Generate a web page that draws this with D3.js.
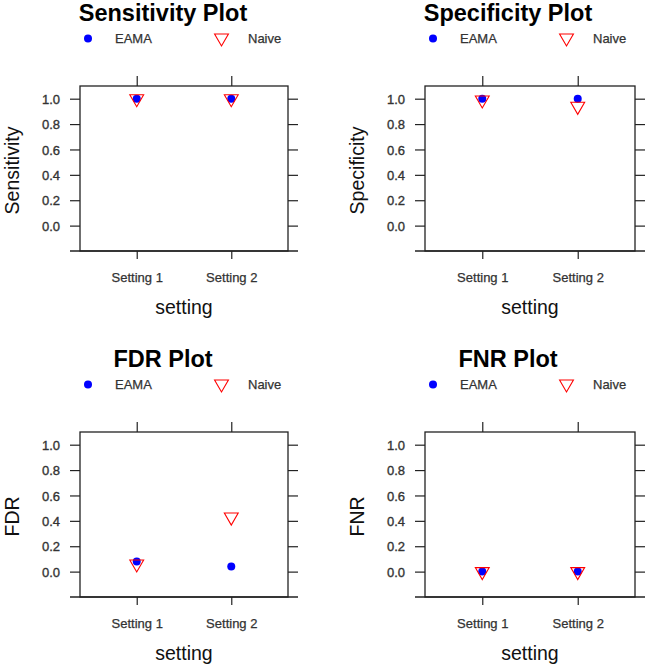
<!DOCTYPE html>
<html>
<head>
<meta charset="utf-8">
<script src="https://cdn.jsdelivr.net/npm/d3@7"></script>
<style>
  html, body { margin: 0; padding: 0; background: #fff; }
  svg { display: block; }
  text { font-family: Arial, "Liberation Sans", Helvetica, sans-serif; }
</style>
</head>
<body>
<svg id="chart" width="646" height="670"></svg>
<script>
// ---- data ----
const categories = ["Setting 1", "Setting 2"];
const seriesNames = ["EAMA", "Naive"];
const yTicks = [0.0, 0.2, 0.4, 0.6, 0.8, 1.0];

const sensitivityEAMA  = [1.0, 1.0];
const sensitivityNaive = [1.0, 1.0];
const specificityEAMA  = [1.0, 1.0];
const specificityNaive = [0.99, 0.94];
const fdrEAMA          = [0.08, 0.04];
const fdrNaive         = [0.06, 0.43];
const fnrEAMA          = [0.0, 0.0];
const fnrNaive         = [0.0, 0.0];

const panelTitles = ["Sensitivity Plot", "Specificity Plot", "FDR Plot", "FNR Plot"];
const panelYLabels = ["Sensitivity", "Specificity", "FDR", "FNR"];
const panelEAMA = [sensitivityEAMA, specificityEAMA, fdrEAMA, fnrEAMA];
const panelNaive = [sensitivityNaive, specificityNaive, fdrNaive, fnrNaive];

// ---- layout ----
const svg = d3.select("#chart");
const colEAMA = "#0000FF", colNaive = "#FF0000";
const axisCol = "#222";
const textCol = "#333";

const panels = [
  {ox: 0,   oy: 0},
  {ox: 345, oy: 0},
  {ox: 0,   oy: 346},
  {ox: 345, oy: 346}
];

const triR = 8; // R pch triangle size
function downTriangle(r) {
  const xc = r * Math.sqrt(3) / 2, yc = r / 2;
  return `M${-xc},${-yc}L${xc},${-yc}L0,${r}Z`;
}

panels.forEach((p, i) => {
  const g = svg.append("g").attr("transform", `translate(${p.ox},${p.oy})`);
  const left = 80, right = 288 + (i % 2 === 1 ? 2 : 0), top = 86, bottom = 251;

  const x = d3.scaleLinear().domain([0.4, 2.6]).range([left, right]);
  const y = d3.scaleLinear().domain([-0.2, 1.1]).range([bottom, top]);

  // title
  g.append("text").attr("x", 163).attr("y", 21)
    .attr("text-anchor", "middle").attr("font-size", 23.5).attr("font-weight", "bold")
    .attr("fill", "#000").text(panelTitles[i]);

  // legend
  const lg = g.append("g");
  lg.append("circle").attr("cx", 88).attr("cy", 38.5).attr("r", 4).attr("fill", colEAMA);
  lg.append("text").attr("x", 115).attr("y", 43).attr("font-size", 13).attr("fill", textCol)
    .attr("stroke", textCol).attr("stroke-width", 0.25).text(seriesNames[0]);
  lg.append("path").attr("d", downTriangle(triR)).attr("transform", `translate(221.5,38)`)
    .attr("fill", "none").attr("stroke", colNaive).attr("stroke-width", 1.1);
  lg.append("text").attr("x", 248).attr("y", 43).attr("font-size", 13).attr("fill", textCol)
    .attr("stroke", textCol).attr("stroke-width", 0.25).text(seriesNames[1]);

  // axes
  const catIdx = categories.map((c, k) => k + 1);
  const axL = d3.axisLeft(y).tickValues(yTicks).tickSize(10).tickPadding(10)
    .tickFormat(d3.format(".1f")).tickSizeOuter(0);
  const axR = d3.axisRight(y).tickValues(yTicks).tickSize(10).tickFormat("").tickSizeOuter(0);
  const axT = d3.axisTop(x).tickValues(catIdx).tickSize(10).tickFormat("").tickSizeOuter(0);
  const axB = d3.axisBottom(x).tickValues(catIdx).tickSize(8)
    .tickFormat(d => categories[d - 1]).tickSizeOuter(0);

  const gl = g.append("g").attr("transform", `translate(${left},0)`).call(axL);
  const gr = g.append("g").attr("transform", `translate(${right},0)`).call(axR);
  const gt = g.append("g").attr("transform", `translate(0,${top})`).call(axT);
  const gb = g.append("g").attr("transform", `translate(0,${bottom})`).call(axB);
  [gl, gr, gt, gb].forEach(a => {
    a.select(".domain").remove();
    a.selectAll(".tick line").attr("stroke", axisCol).attr("stroke-width", 1.2);
  });
  gl.selectAll(".tick text").attr("font-size", 13).attr("fill", textCol)
    .attr("stroke", textCol).attr("stroke-width", 0.35)
    .attr("font-family", "Arial, 'Liberation Sans', sans-serif").attr("dy", "0.36em");
  gb.selectAll(".tick text").attr("font-size", 13).attr("fill", textCol)
    .attr("stroke", textCol).attr("stroke-width", 0.25)
    .attr("font-family", "Arial, 'Liberation Sans', sans-serif")
    .attr("y", 31).attr("dy", 0);

  // box
  g.append("rect").attr("x", left).attr("y", top).attr("width", right - left).attr("height", bottom - top)
    .attr("fill", "none").attr("stroke", axisCol).attr("stroke-width", 1.3);
  // bottom edge extension (as in reference)
  g.append("line").attr("x1", left - 10).attr("x2", right + 10).attr("y1", bottom).attr("y2", bottom)
    .attr("stroke", axisCol).attr("stroke-width", 1.3);

  // axis labels
  g.append("text").attr("transform", `translate(19,${(top + bottom) / 2 + 2}) rotate(-90)`)
    .attr("text-anchor", "middle").attr("font-size", 19.5).attr("fill", "#111").text(panelYLabels[i]);
  g.append("text").attr("x", (left + right) / 2).attr("y", 314)
    .attr("text-anchor", "middle").attr("font-size", 19.5).attr("fill", "#111").text("setting");

  // points
  g.selectAll("circle.eama").data(panelEAMA[i]).enter().append("circle")
    .attr("class", "eama")
    .attr("cx", (d, k) => x(k + 1)).attr("cy", d => y(d))
    .attr("r", 4).attr("fill", colEAMA);
  g.selectAll("path.naive").data(panelNaive[i]).enter().append("path")
    .attr("class", "naive")
    .attr("d", downTriangle(triR))
    .attr("transform", (d, k) => `translate(${x(k + 1)},${y(d)})`)
    .attr("fill", "none").attr("stroke", colNaive).attr("stroke-width", 1.1);
});
</script>
</body>
</html>
